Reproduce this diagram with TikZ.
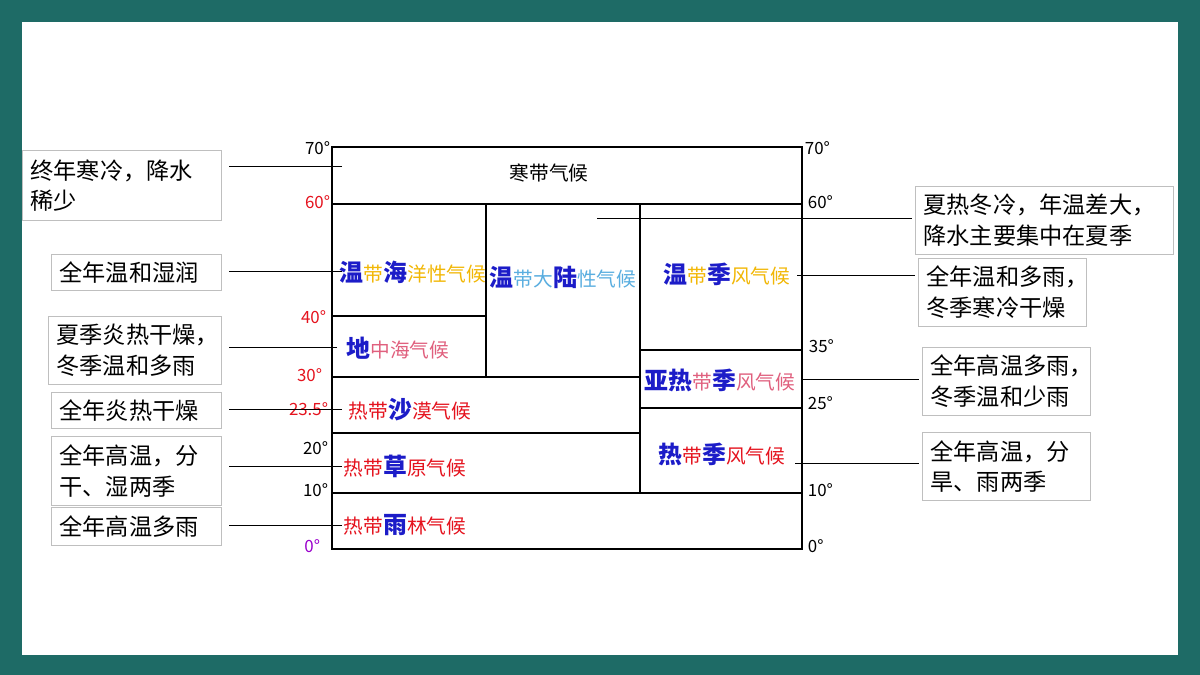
\documentclass[tikz,border=0pt]{standalone}
\usepackage{fontspec}
\setmainfont{Noto Sans CJK SC}
\usetikzlibrary{positioning}
\definecolor{frame}{HTML}{1E6B66}
\definecolor{zblue}{HTML}{1C1CC8}
\definecolor{zgold}{HTML}{F2B705}
\definecolor{zsky}{HTML}{5AAEE0}
\definecolor{zpink}{HTML}{E0607E}
\definecolor{zred}{HTML}{E5131E}
\definecolor{zpurple}{HTML}{9A00CC}
\newcommand{\bz}[1]{{\fontsize{17}{17}\selectfont\bfseries\color{zblue}#1}}
\tikzset{
  note/.style 2 args={draw=black!25,fill=white,align=left,anchor=north west,
    inner xsep=0.2cm,inner ysep=0pt,
    text width=#1cm-0.4cm,minimum height=#2cm,
    font=\fontsize{16.5}{22}\selectfont},
  deg/.style={font=\fontsize{12}{12}\selectfont,inner sep=1pt},
  zone/.style={font=\fontsize{14}{14}\selectfont,inner sep=0pt}
}
\begin{document}
\begin{tikzpicture}[x=0.025cm,y=-0.025cm,line width=0.8pt]
\fill[frame] (0,0) rectangle (1200,675);
\fill[white] (22,22) rectangle (1178,655);
\useasboundingbox (0,0) rectangle (1200,675);
% chart frame
\draw[line width=1.1pt] (332,147) rectangle (802,549);
\draw[line width=1.1pt] (332,204)--(802,204) (332,493)--(802,493)
(486,204)--(486,377) (640,204)--(640,493)
(332,316)--(486,316) (332,377)--(640,377) (332,433)--(640,433)
(640,350)--(802,350) (640,408)--(802,408);
% degrees
\node[deg,left] at (332,148) {70°};
\node[deg,left,zred] at (332,202) {60°};
\node[deg,left,zred] at (328,317) {40°};
\node[deg,left,zred] at (324,375) {30°};
\node[deg,left,zred] at (330,409) {23.5°};
\node[deg,left] at (330,448) {20°};
\node[deg,left] at (330,490) {10°};
\node[deg,left,zpurple] at (322,546) {0°};
\node[deg,right] at (803,148) {70°};
\node[deg,right] at (806,202) {60°};
\node[deg,right] at (807,346) {35°};
\node[deg,right] at (806,403) {25°};
\node[deg,right] at (806,490) {10°};
\node[deg,right] at (806,546) {0°};
% zones
\node[zone] (hd) at (549,173) {寒带气候};
\node[zone] (wo) at (413,272) {\bz{温}\color{zgold}带\bz{海}洋性气候};
\node[zone] (wd) at (563,277) {\bz{温}\color{zsky}带大\bz{陆}性气候};
\node[zone] (wm) at (727,274) {\bz{温}\color{zgold}带\bz{季}风气候};
\node[zone] (dz) at (398,348) {\bz{地}\color{zpink}中海气候};
\node[zone] (ym) at (720,380) {\bz{亚热}\color{zpink}带\bz{季}风气候};
\node[zone] (rs) at (410,410) {\color{zred}热带\bz{沙}漠气候};
\node[zone] (rc) at (405,466) {\color{zred}热带\bz{草}原气候};
\node[zone] (rm) at (722,454) {\bz{热}\color{zred}带\bz{季}风气候};
\node[zone] (ry) at (405,525) {\color{zred}热带\bz{雨}林气候};
% notes
\node[note={4.975}{1.75}] (n1) at (22,150) {终年寒冷，降水\\稀少};
\node[note={4.25}{0.9}] (n2) at (51,254) {全年温和湿润};
\node[note={4.325}{1.7}] (n3) at (48,316) {夏季炎热干燥，\\冬季温和多雨};
\node[note={4.25}{0.9}] (n4) at (51,392) {全年炎热干燥};
\node[note={4.25}{1.72}] (n5) at (51,436) {全年高温，分\\干、湿两季};
\node[note={4.25}{0.95}] (n6) at (51,507) {全年高温多雨};
\node[note={6.45}{1.7}] (n7) at (915,186) {夏热冬冷，年温差大，\\降水主要集中在夏季};
\node[note={4.2}{1.7}] (n8) at (918,258) {全年温和多雨，\\冬季寒冷干燥};
\node[note={4.2}{1.7}] (n9) at (922,347) {全年高温多雨，\\冬季温和少雨};
\node[note={4.2}{1.7}] (n10) at (922,432) {全年高温，分\\旱、雨两季};
% leader lines
\coordinate (t1) at (342,166);
\coordinate (t2) at (342,271);
\coordinate (t3) at (337,347);
\coordinate (t4) at (342,409);
\coordinate (t5) at (342,466);
\coordinate (t6) at (342,525);
\coordinate (t7) at (597,218);
\coordinate (t8) at (797,275);
\coordinate (t9) at (802,379);
\coordinate (t10) at (795,463);
\foreach \i in {1,...,6}
  \draw[line width=0.6pt] (t\i) -- ([xshift=5pt]n\i.east |- t\i);
\foreach \i in {7,...,10}
  \draw[line width=0.6pt] (t\i) -- ([xshift=-2pt]n\i.west |- t\i);
\end{tikzpicture}
\end{document}
